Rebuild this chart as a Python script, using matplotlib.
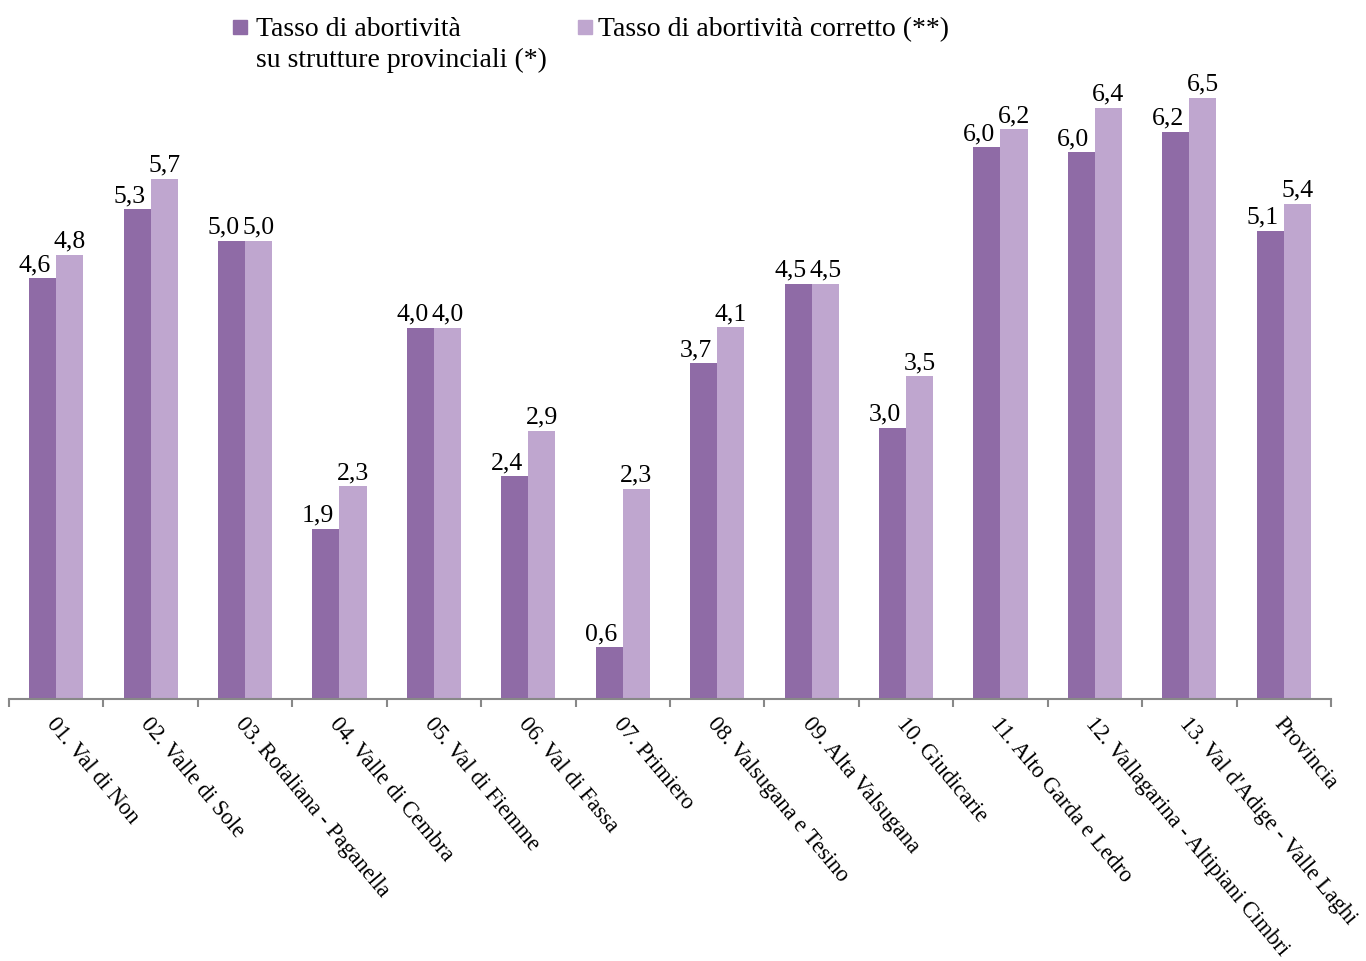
import matplotlib.pyplot as plt
from matplotlib.patches import Rectangle
import matplotlib.transforms as mtransforms
import numpy as np

plt.rcParams['font.family'] = ['Liberation Serif', 'DejaVu Serif']

categories = ['01. Val di Non', '02. Valle di Sole', '03. Rotaliana - Paganella',
              '04. Valle di Cembra', '05. Val di Fiemme', '06. Val di Fassa',
              '07. Primiero', '08. Valsugana e Tesino', '09. Alta Valsugana',
              '10. Giudicarie', '11. Alto Garda e Ledro',
              '12. Vallagarina - Altipiani Cimbri', '13. Val d\'Adige - Valle Laghi',
              'Provincia']
tasso = [4.55, 5.29, 4.95, 1.84, 4.01, 2.41, 0.56, 3.63, 4.49, 2.93, 5.96, 5.91, 6.13, 5.06]
tasso_lab = ['4,6', '5,3', '5,0', '1,9', '4,0', '2,4', '0,6', '3,7', '4,5', '3,0', '6,0', '6,0', '6,2', '5,1']
corretto = [4.80, 5.62, 4.95, 2.30, 4.01, 2.90, 2.27, 4.02, 4.49, 3.49, 6.16, 6.39, 6.50, 5.35]
corretto_lab = ['4,8', '5,7', '5,0', '2,3', '4,0', '2,9', '2,3', '4,1', '4,5', '3,5', '6,2', '6,4', '6,5', '5,4']

dark = '#8F6BA6'
light = '#BFA6CF'

fig = plt.figure(figsize=(13.66, 9.62), dpi=100)
ax = fig.add_axes([9/1366, 1 - 700/962, 1322/1366, 620/962])

x = np.arange(len(categories))
w = 0.286
b1 = ax.bar(x - w/2, tasso, w, color=dark)
b2 = ax.bar(x + w/2, corretto, w, color=light)

for r, lab in zip(b1, tasso_lab):
    ax.annotate(lab, (r.get_x() + r.get_width()/2, r.get_height()),
                xytext=(-8, 3), textcoords='offset pixels',
                ha='center', va='bottom', fontsize=18.5)
for r, lab in zip(b2, corretto_lab):
    ax.annotate(lab, (r.get_x() + r.get_width()/2, r.get_height()),
                xytext=(0, 3), textcoords='offset pixels',
                ha='center', va='bottom', fontsize=18.5)

ax.set_xlim(-0.5, len(categories) - 0.5)
ax.set_ylim(0, 6.7)
for s in ['top', 'right', 'left']:
    ax.spines[s].set_visible(False)
ax.spines['bottom'].set_color('#888888')
ax.spines['bottom'].set_linewidth(1.5)
ax.set_yticks([])

ax.set_xticks(x)
ax.set_xticklabels(categories, rotation=-50, ha='left', rotation_mode='anchor',
                   fontsize=16.3)
ax.tick_params(axis='x', which='major', length=0, pad=10)
ax.set_xticks(np.arange(len(categories) + 1) - 0.5, minor=True)
ax.tick_params(axis='x', which='minor', length=6, width=1.5, color='#888888')
shift = mtransforms.ScaledTranslation(2/100, 0, fig.dpi_scale_trans)
for t in ax.get_xticklabels():
    t.set_transform(t.get_transform() + shift)

# legend
fig.add_artist(Rectangle((233/1366, 1 - 35/962), 14/1366, 14/962,
                         transform=fig.transFigure, color=dark))
fig.text(256/1366, 1 - 17/962, 'Tasso di abortività\nsu strutture provinciali (*)',
         fontsize=20, va='top', ha='left', linespacing=1.3,
         transform=fig.transFigure)
fig.add_artist(Rectangle((578/1366, 1 - 35/962), 14/1366, 14/962,
                         transform=fig.transFigure, color=light))
fig.text(598/1366, 1 - 17/962, 'Tasso di abortività corretto (**)',
         fontsize=20, va='top', ha='left', transform=fig.transFigure)

fig.savefig('out.png', dpi=100)
